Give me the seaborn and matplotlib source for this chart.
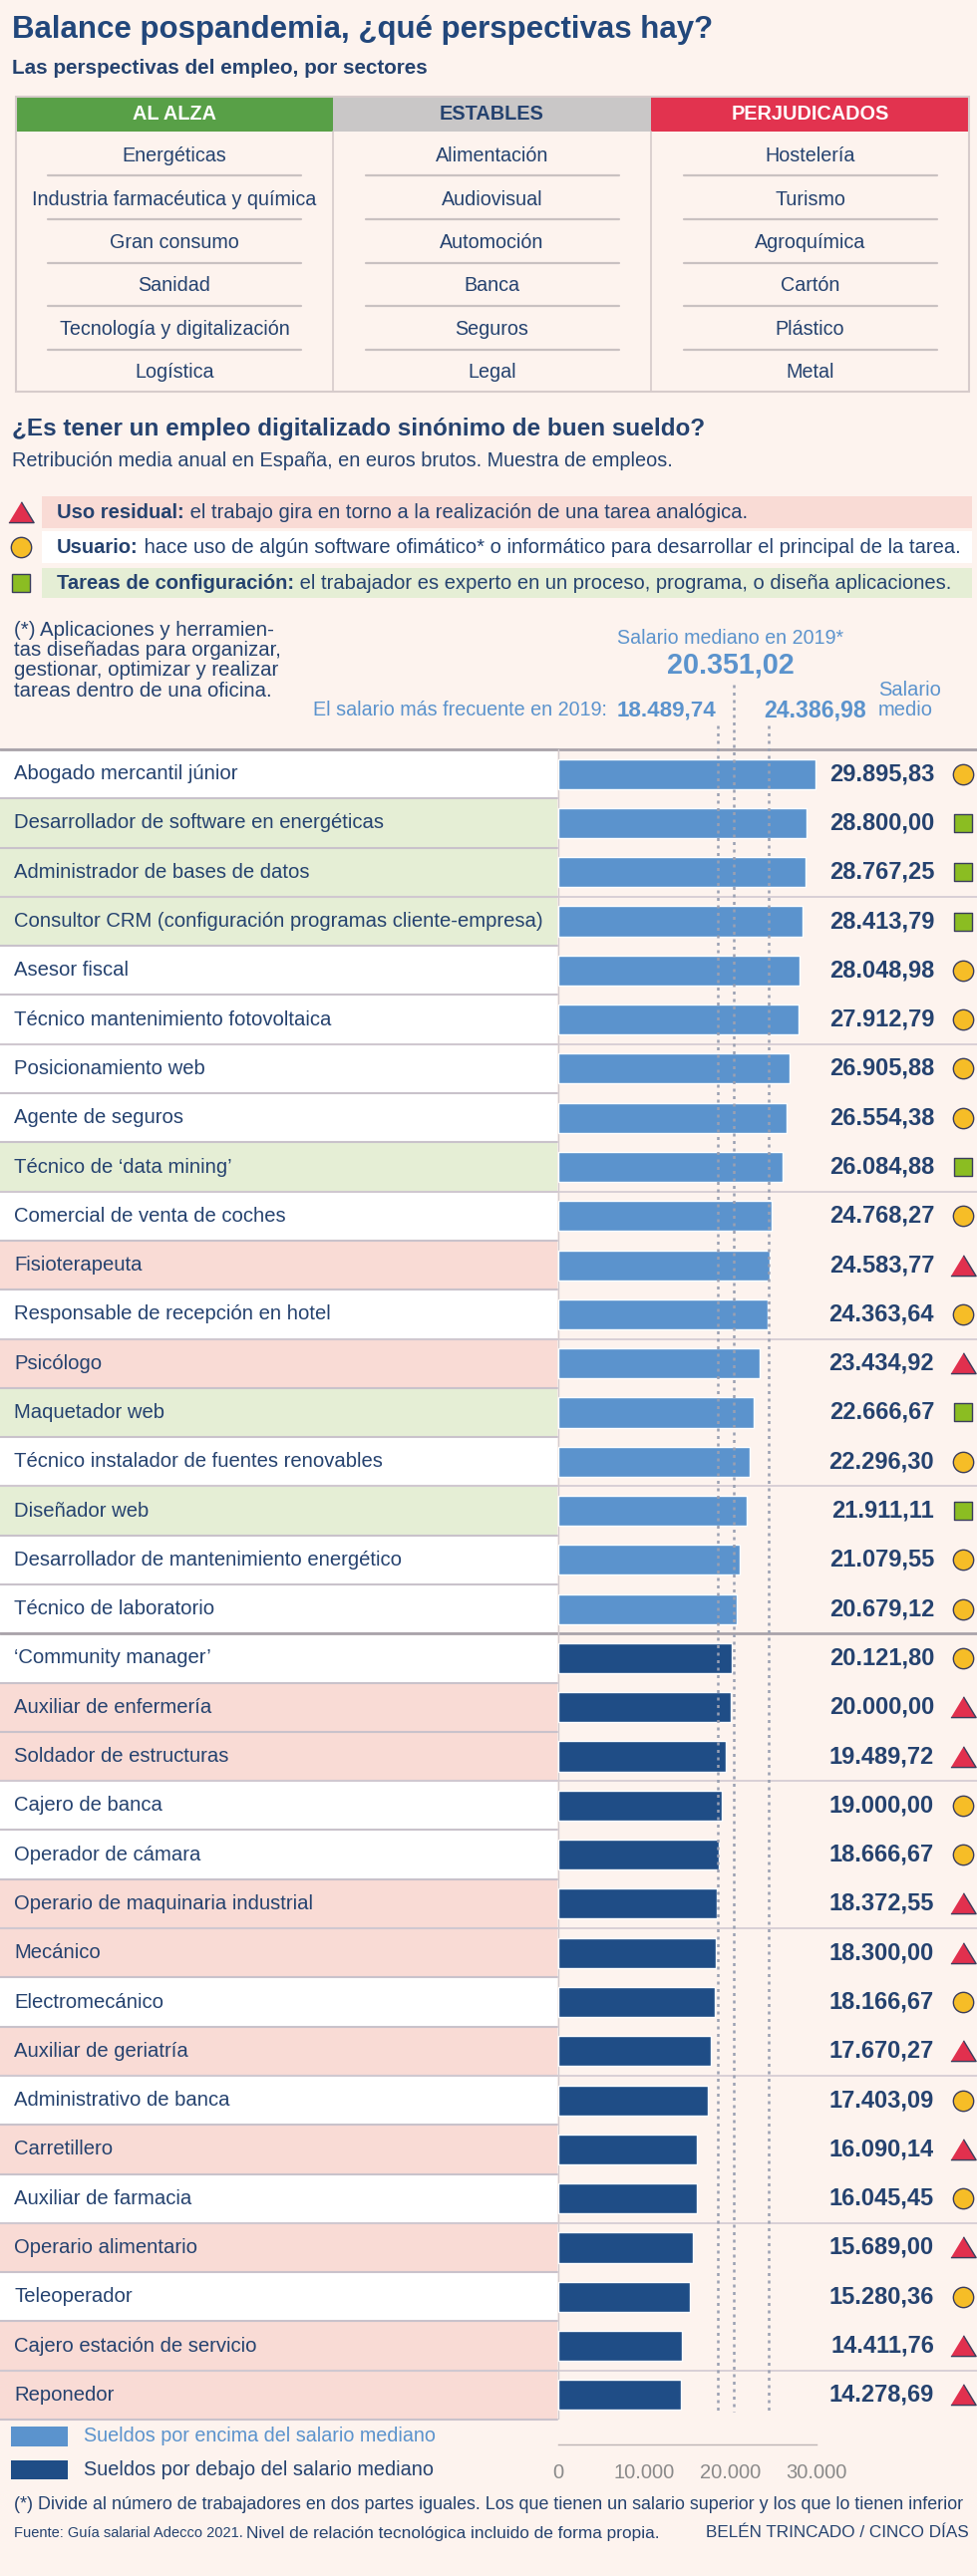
import numpy as np
import pandas as pd
import matplotlib
matplotlib.use("Agg")
import matplotlib.pyplot as plt
import seaborn as sns
from matplotlib.patches import Rectangle
from matplotlib.lines import Line2D

# ---------------- data ----------------
sector_headers = ["AL ALZA", "ESTABLES", "PERJUDICADOS"]
al_alza = ["Energéticas", "Industria farmacéutica y química", "Gran consumo",
           "Sanidad", "Tecnología y digitalización", "Logística"]
estables = ["Alimentación", "Audiovisual", "Automoción", "Banca", "Seguros", "Legal"]
perjudicados = ["Hostelería", "Turismo", "Agroquímica", "Cartón", "Plástico", "Metal"]

puestos = [
    "Abogado mercantil júnior",
    "Desarrollador de software en energéticas",
    "Administrador de bases de datos",
    "Consultor CRM (configuración programas cliente-empresa)",
    "Asesor fiscal",
    "Técnico mantenimiento fotovoltaica",
    "Posicionamiento web",
    "Agente de seguros",
    "Técnico de ‘data mining’",
    "Comercial de venta de coches",
    "Fisioterapeuta",
    "Responsable de recepción en hotel",
    "Psicólogo",
    "Maquetador web",
    "Técnico instalador de fuentes renovables",
    "Diseñador web",
    "Desarrollador de mantenimiento energético",
    "Técnico de laboratorio",
    "‘Community manager’",
    "Auxiliar de enfermería",
    "Soldador de estructuras",
    "Cajero de banca",
    "Operador de cámara",
    "Operario de maquinaria industrial",
    "Mecánico",
    "Electromecánico",
    "Auxiliar de geriatría",
    "Administrativo de banca",
    "Carretillero",
    "Auxiliar de farmacia",
    "Operario alimentario",
    "Teleoperador",
    "Cajero estación de servicio",
    "Reponedor",
]
salarios = [29895.83, 28800.00, 28767.25, 28413.79, 28048.98, 27912.79, 26905.88,
            26554.38, 26084.88, 24768.27, 24583.77, 24363.64, 23434.92, 22666.67,
            22296.30, 21911.11, 21079.55, 20679.12, 20121.80, 20000.00, 19489.72,
            19000.00, 18666.67, 18372.55, 18300.00, 18166.67, 17670.27, 17403.09,
            16090.14, 16045.45, 15689.00, 15280.36, 14411.76, 14278.69]
nivel = ["usuario", "config", "config", "config", "usuario", "usuario", "usuario",
         "usuario", "config", "usuario", "residual", "usuario", "residual", "config",
         "usuario", "config", "usuario", "usuario", "usuario", "residual", "residual",
         "usuario", "usuario", "residual", "residual", "usuario", "residual", "usuario",
         "residual", "usuario", "residual", "usuario", "residual", "residual"]

leyenda_niveles = [
    ("residual", "Uso residual:", " el trabajo gira en torno a la realización de una tarea analógica."),
    ("usuario", "Usuario:", " hace uso de algún software ofimático* o informático para desarrollar el principal de la tarea."),
    ("config", "Tareas de configuración:", " el trabajador es experto en un proceso, programa, o diseña aplicaciones."),
]
nota_ofimatica = ["(*) Aplicaciones y herramien-", "tas diseñadas para organizar,",
                  "gestionar, optimizar y realizar", "tareas dentro de una oficina."]

salario_mediano = 20351.02
salario_frecuente = 18489.74
salario_medio = 24386.98
ticks = [0, 10000, 20000, 30000]
tick_labels = ["0", "10.000", "20.000", "30.000"]
leyenda_barras = ["Sueldos por encima del salario mediano", "Sueldos por debajo del salario mediano"]


def fmt(v):
    return f"{v:,.2f}".replace(",", "X").replace(".", ",").replace("X", ".")


# ---------------- style ----------------
BG = "#fdf3ee"
NAVY = "#25426f"
TITLE = "#22477b"
LB = "#5b93cd"
DB = "#1f4d86"
ROWBG = {"residual": "#f9dbd5", "usuario": "#ffffff", "config": "#e5eed5"}
MK = {"residual": dict(marker=[(-1, -0.8), (1, -0.8), (0, 0.85)], s=330, c="#e1304e"),
      "usuario": dict(marker="o", s=215, c="#f6bd27"),
      "config": dict(marker="s", s=175, c="#8bbd22")}
SEP = "#c9c2cb"
STRONG = "#a9a3aa"

sns.set_style("white")
plt.rcParams["font.family"] = ["Liberation Sans", "DejaVu Sans"]

W, H = 980, 2585
fig = plt.figure(figsize=(W / 100, H / 100), dpi=100, facecolor=BG)
R = fig.canvas.get_renderer()


def fx(px):
    return px / W


def fy(py):
    return 1 - py / H


def txt(x, y, s, size=15, color=NAVY, weight="normal", ha="left", va="center", fit=None):
    t = fig.text(fx(x), fy(y), s, fontsize=size, color=color, fontweight=weight, ha=ha, va=va)
    if fit is not None:
        w = t.get_window_extent(renderer=R).width
        if w > 0:
            t.set_fontsize(size * fit / w)
    return t


def rich(x, y, parts, size, fit=None):
    texts = []
    for s, wgt, col in parts:
        t = fig.text(0, 0, s, fontsize=size, fontweight=wgt, color=col, ha="left", va="center")
        texts.append(t)
    widths = [t.get_window_extent(renderer=R).width for t in texts]
    if fit is not None:
        k = fit / sum(widths)
        for t in texts:
            t.set_fontsize(size * k)
        widths = [t.get_window_extent(renderer=R).width for t in texts]
    cx = x
    for t, w in zip(texts, widths):
        t.set_position((fx(cx), fy(y)))
        cx += w
    return texts


def rect(x0, y0, x1, y1, **kw):
    r = Rectangle((fx(x0), fy(y1)), (x1 - x0) / W, (y1 - y0) / H,
                  transform=fig.transFigure, **kw)
    fig.add_artist(r)
    return r


def hline(x0, x1, y, **kw):
    fig.add_artist(Line2D([fx(x0), fx(x1)], [fy(y), fy(y)], transform=fig.transFigure, **kw))


def vline(x, y0, y1, **kw):
    fig.add_artist(Line2D([fx(x), fx(x)], [fy(y0), fy(y1)], transform=fig.transFigure, **kw))


def marker_at(x, y, key):
    m = MK[key]
    fig.add_artist(Line2D([fx(x)], [fy(y)], transform=fig.transFigure, linestyle="none",
                          marker=m["marker"], markersize=np.sqrt(m["s"]),
                          markerfacecolor=m["c"], markeredgecolor="#3a3d5c",
                          markeredgewidth=1.0))


# ---------------- header ----------------
txt(12, 30, "Balance pospandemia, ¿qué perspectivas hay?", 22, TITLE, "bold", fit=704)
txt(12, 68, "Las perspectivas del empleo, por sectores", 15, NAVY, "bold", fit=419)

cols = [16, 334, 653, 972]
head_bg = ["#58a047", "#c9c7c7", "#e2334f"]
head_fg = ["white", NAVY, "white"]
for i, h in enumerate(sector_headers):
    rect(cols[i], 97, cols[i + 1], 132, facecolor=head_bg[i], edgecolor="none")
    txt((cols[i] + cols[i + 1]) / 2, 115, h, 14.3, head_fg[i], "bold", ha="center")
rect(16, 97, 972, 393, facecolor="none", edgecolor="#d6cbcb", lw=1.5)
vline(334, 132, 393, color="#d6cbcb", lw=1.2)
vline(653, 132, 393, color="#d6cbcb", lw=1.2)
for c, items in enumerate([al_alza, estables, perjudicados]):
    cx = (cols[c] + cols[c + 1]) / 2
    for k, it in enumerate(items):
        txt(cx, 157 + 43.3 * k, it, 14.2, NAVY, ha="center")
        if k < len(items) - 1:
            hline(cx - 127, cx + 127, 176 + 43.8 * k, color="#c9c1c1", lw=1.6)

# ---------------- second block ----------------
txt(12, 430, "¿Es tener un empleo digitalizado sinónimo de buen sueldo?", 17, NAVY, "bold", fit=694)
txt(12, 462, "Retribución media anual en España, en euros brutos. Muestra de empleos.", 14, NAVY, fit=666)

bands = [(498, 530), (533, 565), (570, 600)]
for (key, b, rest), (y0, y1) in zip(leyenda_niveles, bands):
    rect(42, y0, 975, y1, facecolor=ROWBG[key], edgecolor="none")
    marker_at(21, (y0 + y1) / 2, key)
ts = rich(57, 549, [(leyenda_niveles[1][1], "bold", NAVY), (leyenda_niveles[1][2], "normal", NAVY)], 15, fit=902)
leg_size = ts[0].get_fontsize()
for (key, b, rest), (y0, y1) in zip(leyenda_niveles, bands):
    if key == "usuario":
        continue
    rich(57, (y0 + y1) / 2, [(b, "bold", NAVY), (rest, "normal", NAVY)], leg_size)

t3 = txt(14, 673, nota_ofimatica[2], 14.5, NAVY, fit=266)
fs_note = t3.get_fontsize()
for k, line in enumerate(nota_ofimatica):
    if k != 2:
        txt(14, 633 + 20 * k, line, fs_note, NAVY)

txt(733, 640, "Salario mediano en 2019*", 14, LB, ha="center", fit=228)
txt(733, 668, fmt(salario_mediano), 18, LB, "bold", ha="center", fit=128)
txt(609, 713, "El salario más frecuente en 2019:", 14, LB, ha="right", fit=297)
txt(619, 713, fmt(salario_frecuente), 14, LB, "bold", fit=100)
txt(766, 713, fmt(salario_medio), 14, LB, "bold", fit=103)
txt(881, 692, "Salario", 14.5, LB)
txt(881, 713, "medio", 14.5, LB)

# ---------------- bar chart ----------------
ROW_TOP, ROW_BOT = 752, 2428
n = len(puestos)
ROW_H = (ROW_BOT - ROW_TOP) / n
X0 = 560
PXU = 259 / 30000.0

ax = fig.add_axes([0, fy(ROW_BOT), 1, (ROW_BOT - ROW_TOP) / H])
ax.set_facecolor("none")

df = pd.DataFrame({"puesto": puestos, "salario": salarios, "nivel": nivel})
df["grupo"] = np.where(df["salario"] > salario_mediano, "encima", "debajo")
sns.barplot(data=df, x="salario", y="puesto", hue="grupo", order=puestos,
            palette={"encima": LB, "debajo": DB}, dodge=False, width=0.61,
            orient="h", saturation=1, legend=False, ax=ax, zorder=2)

ax.set_xlim(-X0 / PXU, (W - X0) / PXU)
ax.set_ylim(n - 0.5, -0.5)
ax.set_xlabel("")
ax.set_ylabel("")
ax.tick_params(axis="y", left=False, labelleft=False)

yt = ax.get_yaxis_transform()
for i, (p, v, nv) in enumerate(zip(puestos, salarios, nivel)):
    ax.axhspan(i - 0.5, i + 0.5, xmin=0, xmax=559 / W, color=ROWBG[nv], lw=0, zorder=0)
    ax.text(14 / W, i, p, transform=yt, ha="left", va="center", fontsize=14.6, color=NAVY)
    ax.text(937 / W, i, fmt(v), transform=yt, ha="right", va="center", fontsize=17,
            fontweight="bold", color=NAVY, clip_on=False)

for key in ["residual", "usuario", "config"]:
    idx = [i for i, nv in enumerate(nivel) if nv == key]
    m = MK[key]
    ax.scatter([966 / W] * len(idx), idx, transform=yt, marker=m["marker"], s=m["s"],
               c=m["c"], edgecolors="#3a3d5c", linewidths=1.0, clip_on=False, zorder=4)

for b in np.arange(-0.5, n, 1.0):
    ax.axhline(b, xmin=0, xmax=559 / W, color=SEP, lw=1.5, zorder=1, clip_on=False)
for b in np.arange(2.5, n - 1, 3.0):
    if abs(b - 17.5) < 0.01:
        continue
    ax.axhline(b, 0, 1, color="#d2cad2", lw=1.2, zorder=1)
ax.axhline(-0.5, 0, 1, color=STRONG, lw=2, zorder=1, clip_on=False)
ax.axhline(17.5, 0, 1, color=STRONG, lw=2, zorder=1)
ax.axvline(0, color="#d3cbcf", lw=1, zorder=1)


def py2data(py):
    return -0.5 + (py - ROW_TOP) / ROW_H


dots = dict(colors="#9aa0b2", linestyles=(0, (1.2, 1.8)), lw=1.8, clip_on=False, zorder=3)
ax.vlines([salario_mediano], py2data(687), py2data(2420), **dots)
ax.vlines([salario_frecuente, salario_medio], py2data(728), py2data(2420), **dots)

sns.despine(ax=ax, left=True, top=True, right=True)
ax.spines["bottom"].set_position(("outward", 18))
ax.spines["bottom"].set_bounds(0, 30000)
ax.spines["bottom"].set_color("#bdb5b5")
ax.spines["bottom"].set_linewidth(1)
ax.set_xticks(ticks)
ax.set_xticklabels(tick_labels)
ax.tick_params(axis="x", direction="in", length=18, width=1, color="#bdb5b5",
               labelcolor="#8a8a8a", labelsize=14.5, pad=14)

# ---------------- bottom legend + footer ----------------
rect(11, 2435, 68, 2455, facecolor=LB, edgecolor="none")
txt(84, 2445, leyenda_barras[0], 14, LB, fit=354)
rect(11, 2469, 68, 2488, facecolor=DB, edgecolor="none")
txt(84, 2479, leyenda_barras[1], 14, NAVY, fit=353)

txt(14, 2514, "(*) Divide al número de trabajadores en dos partes iguales. Los que tienen un "
    "salario superior y los que lo tienen inferior", 14, NAVY, fit=960)
txt(14, 2542, "Fuente: Guía salarial Adecco 2021.", 11, NAVY, fit=228)
txt(247, 2542, "Nivel de relación tecnológica incluido de forma propia.", 13, NAVY, fit=415)
txt(972, 2542, "BELÉN TRINCADO / CINCO DÍAS", 11, NAVY, ha="right", fit=263)

fig.savefig("out.png", dpi=100, facecolor=BG)
